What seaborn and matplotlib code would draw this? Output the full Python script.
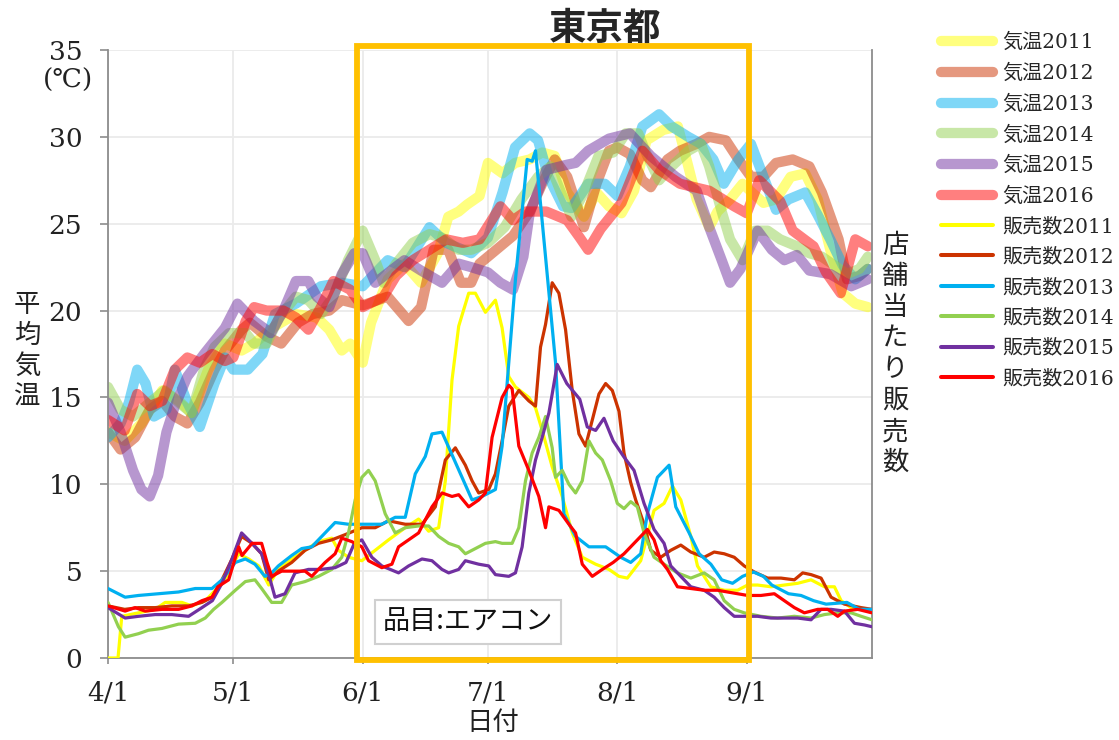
import numpy as np
import pandas as pd
import matplotlib
matplotlib.use("Agg")
import matplotlib.pyplot as plt
import seaborn as sns
from matplotlib.patches import Rectangle
from matplotlib.lines import Line2D

# ---------------- data (day index: 0 = 4/1) ----------------
month_ticks = [0, 30, 61, 91, 122, 153]
month_labels = ["4/1", "5/1", "6/1", "7/1", "8/1", "9/1"]
y_ticks = [0, 5, 10, 15, 20, 25, 30, 35]

years = ["2011", "2012", "2013", "2014", "2015", "2016"]
line_colors = ["#FFFF00", "#CC3300", "#00B0F0", "#92D050", "#7030A0", "#FF0000"]

# temperature (平均気温)
t2011_day = [0,4,8,13,17,20,24,28,32,35,40,45,50,53,56,58,61,63,67,71,75,79,81.5,84,86,89,91,94.5,97.5,101,
             104,107,110,114,117,120,123,126,129,133,136.5,139,141,144,146,149,152,157,160,163.5,167,170,173,176,179,182]
t2011_val = [13.0,12.5,13.5,15.4,14.8,14.1,16.6,18.1,17.7,18.1,19.1,19.8,19.6,18.9,17.7,18.1,17.0,19.3,21.8,22.7,
             21.6,23.3,25.4,25.7,26.1,26.6,28.5,27.9,28.5,28.7,29.1,28.9,26.8,25.4,26.8,26.0,25.6,26.9,29.8,30.4,
             30.6,28.3,26.4,24.8,25.7,26.4,27.3,26.2,26.4,27.7,27.9,26.4,23.5,21.0,20.4,20.2]

t2012_day = [0,3,6.5,10,13,16,19,22,25.5,28,32,34,38,41.5,45.5,49,53,56,61,67,72,75,78,81.5,84.5,87,89,93,97,101,
             104,107,110,114,117,120,122,125,128,130,134,137,141,144,148,151,154,157,160,164,168,171,175,177,180,182]
t2012_val = [13.0,12.0,12.7,14.3,14.8,13.9,13.5,14.7,16.6,17.7,18.9,19.3,18.5,18.1,19.3,19.8,20.0,20.6,20.3,20.8,
             19.4,20.2,23.5,23.5,21.6,21.6,22.7,23.5,24.3,25.7,27.3,28.7,27.7,24.8,27.3,29.2,29.4,29.0,27.5,27.1,
             28.7,29.2,29.6,30.0,29.8,28.7,27.7,27.7,28.5,28.7,28.3,26.8,24.1,21.8,22.0,22.4]

t2013_day = [0,3,5,7,9,11,14,16,19,22,25.5,28,30,33.5,37,40,45,51,56,61,67,71,77,81,87,91,94.5,97.5,101,103,
             105.5,109,111,115,119,122,125,128,132,135,139,142,145,147.5,151,154,157,160,163,167,170,173,176,179,182]
t2013_val = [12.7,13.5,14.7,16.6,15.8,13.9,14.3,16.6,14.7,13.3,15.8,17.3,16.6,16.6,17.5,19.8,20.4,21.4,21.6,21.4,
             22.9,22.5,24.8,23.9,23.3,24.2,26.8,29.4,30.2,29.8,27.7,26.0,25.9,27.3,27.3,26.6,28.3,30.6,31.3,30.6,
             30.0,29.6,28.7,27.3,28.7,29.6,27.7,25.8,26.4,26.8,25.5,24.1,22.6,21.8,22.4]

t2014_day = [0,3,6,10,13.5,17,20,23,25.5,29,33,35,38,41,45,48,51,54,57.5,61,64,66,69,73,77,80,84,87,91,95,
             99,103,106,108.5,111,114,117.5,121,124,127,129,132,135,139,142,144,147,149,152,155,158,161,165,168,171,174,177,180,182]
t2014_val = [15.6,14.3,13.9,14.7,15.4,14.7,14.1,16.6,17.9,18.7,18.7,18.1,18.1,19.6,20.8,20.6,19.8,20.8,22.9,24.6,
             22.9,21.6,22.7,23.9,24.4,24.2,23.5,23.5,23.9,24.8,26.4,27.7,28.3,26.8,25.4,26.8,28.9,29.1,30.2,30.2,
             29.0,27.5,28.3,29.2,29.6,28.3,25.7,24.1,22.9,24.6,24.6,24.1,23.7,23.3,23.1,22.6,22.1,22.4,23.1]

t2015_day = [0,3,6,8,10,12,14,16,19,23,28,31,35,39,42,45,48,50,53,56,59,61,64,71,75,80,84,87,91,94,
             97,99.5,101,105,110,112,115,120,125,130,136,141,144,147,149,151.5,155.6,159,162,165,168,173,178,182]
t2015_val = [14.7,13.0,10.8,9.7,9.3,10.5,13.0,14.5,16.2,17.5,19.0,20.4,19.4,18.7,20.0,21.7,21.7,20.8,20.2,22.1,
             23.3,23.3,21.6,22.9,22.3,21.6,22.7,22.5,22.2,21.6,21.2,23.1,25.6,28.1,28.4,28.5,29.2,29.9,30.2,28.9,
             27.7,26.9,24.8,22.9,21.6,22.4,24.6,23.5,22.9,23.2,22.3,22.1,21.4,21.8]

t2016_day = [0,4,7,10,13,16,19,22,25,28,30,33,35,38,42,45,48,51,54,58,61,66,69,73,77,81,85,89,94,97,
             100,105,110,113,115,118,123,128,132,137,144,150,153,156,161,164,169,172,175.5,179,182]
t2016_val = [13.7,13.1,15.2,14.5,14.8,16.6,17.3,17.0,17.5,17.1,17.3,19.4,20.2,20.0,20.0,19.6,18.9,20.2,21.7,21.2,
             20.2,20.8,22.0,22.9,23.5,24.1,23.9,24.1,26.0,25.2,25.7,25.7,25.2,24.2,23.5,24.7,26.2,29.2,28.1,27.3,
             26.9,26.0,25.6,27.5,26.3,24.6,23.7,22.2,21.0,24.1,23.7]

# sales (販売数)
s2011_day = [0,2.4,3.3,7.3,11.3,13.7,17.7,20.1,23.3,25.7,28,31.3,33.7,36.1,38.5,40.8,44,47.2,50.4,53.6,
             55.2,57.6,60.8,64,67.2,71.2,74.4,76.8,79.2,80.8,82.4,84,86.4,88,90.4,92.8,94.4,96,97.6,100.8,
             102.4,104,106.4,108.8,111.2,113.6,116.8,120,122.4,124.4,127.6,130.8,133.2,135.2,137.2,139.6,141.2,144.4,147.6,150.8,
             153.2,155.6,158.8,162,165.2,168.4,171.6,174,175.6,178,181,183]
s2011_val = [0,0,2.4,2.6,2.8,3.2,3.2,3.0,3.3,3.9,4.5,6.0,5.7,5.3,4.2,5.1,5.7,6.2,6.7,6.9,
             6.2,5.8,5.6,6.2,6.8,7.5,8.0,7.3,7.5,10.2,16.0,19.1,21.0,21.0,19.9,20.6,19.0,16.2,15.6,15.0,
             14.4,13.1,11.0,9.3,7.2,5.8,5.4,5.1,4.7,4.6,5.6,8.5,8.9,9.9,9.1,7.0,5.3,4.1,3.9,3.9,
             4.2,4.2,4.1,4.2,4.3,4.5,4.1,4.1,3.3,2.9,2.8,2.6]

s2012_day = [0,4,7.3,11.3,15.3,19.3,22.5,25,27.3,29.7,32,34.5,36.8,38.5,40.8,44,47.2,50.4,53.6,56.8,
             60.8,64,67.2,71.2,75.2,78.4,80.8,83.2,85.6,87.2,88.8,91.2,92.8,94.4,96,98.4,100.8,102.4,103.6,104.8,
             106.4,108,109.6,111.2,112.8,114.4,116,117.6,119.2,120.8,122.4,123.6,125.2,126.4,128.4,130,132.4,134.8,137.2,139.6,
             142.8,145.2,147.6,150,152.4,154.8,158,161.2,164.4,166.4,168.4,170.8,173.2,176.4,180.4,183]
s2012_val = [3.0,2.8,2.9,2.9,3.0,3.0,3.2,3.5,4.5,5.7,7.0,6.6,6.0,4.5,5.0,5.5,6.2,6.6,6.8,7.1,
             7.5,7.5,7.9,7.7,7.7,8.7,11.4,12.1,11.1,10.2,9.5,9.7,10.6,12.5,14.5,15.4,14.8,14.5,17.9,19.2,
             21.6,21.0,18.9,15.4,12.9,12.2,13.7,15.2,15.8,15.4,14.2,11.8,10.1,9.1,7.7,6.2,5.8,6.2,6.5,6.1,
             5.8,6.1,6.0,5.8,5.3,4.95,4.6,4.6,4.5,4.9,4.8,4.6,3.5,3.1,2.9,2.8]

s2013_day = [0,4.1,7.3,12.1,16.9,20.9,24.9,27.3,30.5,32.9,35.2,37.6,39.2,40.8,44,46.4,48.8,52,54.4,57.6,
             60.8,65.6,68.8,71.2,73.6,76,77.6,80,82.4,84.8,87.2,89.6,92.8,94.4,96,97.6,100.4,101.6,102.4,107.2,
             109.2,112,115.2,119.2,122.8,125.2,127.6,129.2,131.6,134.4,136,139.2,141.6,144.4,147,149.6,152,154.6,157,159,
             163,166,169,172,177,180,183]
s2013_val = [4.0,3.5,3.6,3.7,3.8,4.0,4.0,4.5,5.5,5.7,5.4,4.7,4.9,5.3,5.9,6.3,6.4,7.2,7.8,7.7,
             7.7,7.7,8.1,8.1,10.6,11.6,12.9,13.0,11.7,10.4,9.1,9.3,9.7,12.2,17.0,21.8,28.7,28.6,29.2,17.0,
             8.3,7.0,6.4,6.4,5.8,5.5,6.0,8.3,10.4,11.1,8.7,7.2,6.0,5.4,4.5,4.3,4.7,4.95,4.7,4.2,
             3.7,3.6,3.3,3.1,3.2,2.8,2.8]

s2014_day = [0,2.5,4.1,7.3,9.7,12.9,16.9,20.9,23.3,25.3,27.3,30.5,32.9,35.2,36.8,39.2,41.6,44,47.2,50.4,
             53.6,56,57.6,59.2,60.8,62.4,64,66.4,68.8,71.2,74.4,76.8,79.2,81.6,84,85.6,88,90.4,92.8,94.4,
             96.8,98.4,100,101.6,103.2,104.8,106.4,107.2,108.8,110.4,112,113.6,115.2,116.8,118.4,120.4,122,123.6,125.2,126.8,
             128.4,130.8,133.2,136.4,139.6,142.8,145.2,147.6,150,152.4,156.4,160.4,164.4,168.4,171.6,174.8,178,180.4,183]
s2014_val = [3.2,1.8,1.2,1.4,1.6,1.7,1.95,2.0,2.3,2.8,3.2,3.9,4.4,4.5,4.0,3.2,3.2,4.2,4.4,4.7,
             5.1,5.8,7.2,9.1,10.4,10.8,10.2,8.3,7.2,7.5,7.6,7.6,7.0,6.6,6.4,6.0,6.3,6.6,6.7,6.6,
             6.6,7.5,10.2,11.8,12.7,13.9,12.1,10.4,10.8,10.0,9.5,10.2,12.5,11.8,11.4,10.2,8.9,8.6,9.0,8.7,
             7.2,5.8,5.4,4.9,4.6,4.9,4.5,3.3,2.8,2.6,2.4,2.3,2.4,2.3,2.5,2.6,2.6,2.4,2.2]

s2015_day = [0,4.1,7.3,11.3,15.3,19.3,22.5,25,27.3,29.7,32,34.5,36.8,38.5,40,42.4,44.8,48,51,54.4,
             57,59,60.8,63.2,65.6,69.6,72,75.2,77.6,80,81.6,84,85.6,88.8,91.2,92.8,96,97.6,99.2,100.8,
             102.4,104,105.6,106.4,107.6,109.9,113,114.8,116.8,118.8,121,123.5,126,128.4,130.8,133.2,134.8,137.2,139.6,142.8,
             145.2,147.6,150,152.4,155.6,158.8,162,165.2,168.4,170.8,173.2,176.4,178.8,181.2,183]
s2015_val = [2.9,2.3,2.4,2.5,2.5,2.4,2.9,3.3,4.3,5.7,7.2,6.6,6.0,4.8,3.5,3.7,4.9,5.1,5.1,5.2,
             5.5,6.6,6.8,5.8,5.3,4.9,5.3,5.7,5.6,5.1,4.9,5.1,5.6,5.4,5.3,4.8,4.7,4.9,6.4,9.5,
             11.4,12.7,14.1,15.2,16.9,15.8,14.9,13.3,13.1,13.8,12.5,11.6,10.8,8.9,7.4,6.6,5.3,4.7,4.1,3.9,
             3.5,2.9,2.4,2.4,2.4,2.3,2.3,2.3,2.2,2.8,2.8,2.7,2.0,1.9,1.8]

s2016_day = [0,4.1,6.5,8.9,12.9,16.9,20.1,22.5,24.9,26.3,28.9,31.3,32.1,34.5,36.8,38.1,39.2,41.6,44.8,47.2,
             48.8,52,54.4,56,58.4,60.8,62.4,65.6,68,69.6,72,74.4,77.6,80,82.4,84,86.4,88.8,90.4,92,
             94.4,96,96.8,98.4,100.8,103.2,104.8,105.6,108,110.4,112,113.6,116,118.4,121,123.6,126.8,129.2,130.8,132.4,
             134,136.4,139.6,142.8,146,148.4,150.8,153.2,156.4,159.6,162,164.4,166.8,170,172.4,174.8,176.4,179.6,183]
s2016_val = [3.0,2.7,2.9,2.7,2.8,2.8,3.0,3.3,3.5,4.1,4.5,6.4,5.9,6.6,6.6,5.5,4.7,5.0,5.0,5.0,
             4.7,5.5,6.0,6.9,6.7,6.4,5.6,5.2,5.4,6.4,6.8,7.2,8.7,9.5,9.3,9.4,8.7,9.1,9.5,12.7,
             15.0,15.7,15.5,12.2,10.8,9.3,7.5,8.7,8.5,7.7,7.2,5.4,4.7,5.1,5.5,6.0,6.8,7.4,6.8,5.6,
             5.1,4.1,4.0,3.9,3.9,3.8,3.7,3.6,3.6,3.7,3.3,2.9,2.6,2.8,2.8,2.4,2.7,2.8,2.6]

# ---------------- figure ----------------
sns.set_theme(style="white")
plt.rcParams["font.family"] = ["DejaVu Serif", "Noto Sans CJK JP"]
CJK = ["Noto Sans CJK JP", "DejaVu Sans"]

W, H = 1119, 740
fig = plt.figure(figsize=(W / 100, H / 100), dpi=100)
ax = fig.add_axes([108 / W, 82 / H, 764 / W, 608 / H])

temps = [(t2011_day, t2011_val), (t2012_day, t2012_val), (t2013_day, t2013_val),
         (t2014_day, t2014_val), (t2015_day, t2015_val), (t2016_day, t2016_val)]
sales = [(s2011_day, s2011_val), (s2012_day, s2012_val), (s2013_day, s2013_val),
         (s2014_day, s2014_val), (s2015_day, s2015_val), (s2016_day, s2016_val)]

T_LW, S_LW, T_ALPHA = 7.4, 2.3, 0.5
for (d, v), c in zip(temps, line_colors):
    sns.lineplot(data=pd.DataFrame({"day": d, "val": v}), x="day", y="val", ax=ax, color=c,
                 lw=T_LW, alpha=T_ALPHA, estimator=None, sort=False, legend=False,
                 solid_capstyle="round", solid_joinstyle="round", zorder=2)
for (d, v), c in zip(sales, line_colors):
    sns.lineplot(data=pd.DataFrame({"day": d, "val": v}), x="day", y="val", ax=ax, color=c,
                 lw=S_LW, estimator=None, sort=False, legend=False,
                 solid_joinstyle="round", zorder=3)

ax.set_xlim(0, 183)
ax.set_ylim(0, 35)
ax.set_xticks(month_ticks)
ax.set_xticklabels(month_labels)
ax.set_yticks(y_ticks)
ax.set_xlabel("")
ax.set_ylabel("")
ax.grid(True, color="#EBEBEB", lw=1.3, zorder=0)
ax.set_axisbelow(True)
for side in ["left", "bottom", "right"]:
    ax.spines[side].set_color("#8C8C8C")
    ax.spines[side].set_linewidth(1.3)
ax.spines["top"].set_visible(False)
ax.tick_params(axis="y", direction="out", length=5.5, width=1.2, color="#8C8C8C",
               pad=13, labelsize=19, labelcolor="#222222", left=True)
ax.tick_params(axis="x", direction="out", length=4.5, width=1.2, color="#8C8C8C",
               pad=12, labelsize=19, labelcolor="#222222", bottom=True)

# orange highlight frame
ax.add_patch(Rectangle((59.7, -0.1), 93.9, 35.35, fill=False, edgecolor="#FFC000",
                       lw=4.2, clip_on=False, zorder=6))

# texts
fig.text(605 / W, 1 - 28 / H, "東京都", fontsize=27, fontweight="bold", family=CJK,
         ha="center", va="center")
fig.text(68 / W, 1 - 80 / H, "(℃)", fontsize=19, ha="center", va="center", color="#222222")
for i, ch in enumerate("平均気温"):
    fig.text(27 / W, 1 - (304 + i * 31) / H, ch, fontsize=19, family=CJK,
             ha="center", va="center", color="#222222")
for i, ch in enumerate("店舗当たり販売数"):
    fig.text(895 / W, 1 - (245 + i * 31.1) / H, ch, fontsize=19, family=CJK,
             ha="center", va="center", color="#222222")
fig.text(493 / W, 1 - 723 / H, "日付", fontsize=19, family=CJK, ha="center", va="center",
         color="#222222")
fig.text(468 / W, 1 - 622 / H, "品目:エアコン", fontsize=19.5, family=CJK, ha="center",
         va="center", color="#111111", zorder=7,
         bbox=dict(boxstyle="square,pad=0.3", fc="white", ec="#D0D0D0", lw=1.5))

# legend
handles, labels = [], []
for y, c in zip(years, line_colors):
    handles.append(Line2D([], [], color=c, lw=T_LW, alpha=T_ALPHA, solid_capstyle="round"))
    labels.append("気温" + y)
for y, c in zip(years, line_colors):
    handles.append(Line2D([], [], color=c, lw=S_LW + 0.6))
    labels.append("販売数" + y)
fig.legend(handles, labels, loc="upper left", bbox_to_anchor=(941 / W, 1 - 33 / H),
           frameon=False, fontsize=14.5, handlelength=2.6, handletextpad=0.45,
           labelspacing=0.565, borderpad=0, borderaxespad=0)

fig.savefig("out.png", dpi=100)
